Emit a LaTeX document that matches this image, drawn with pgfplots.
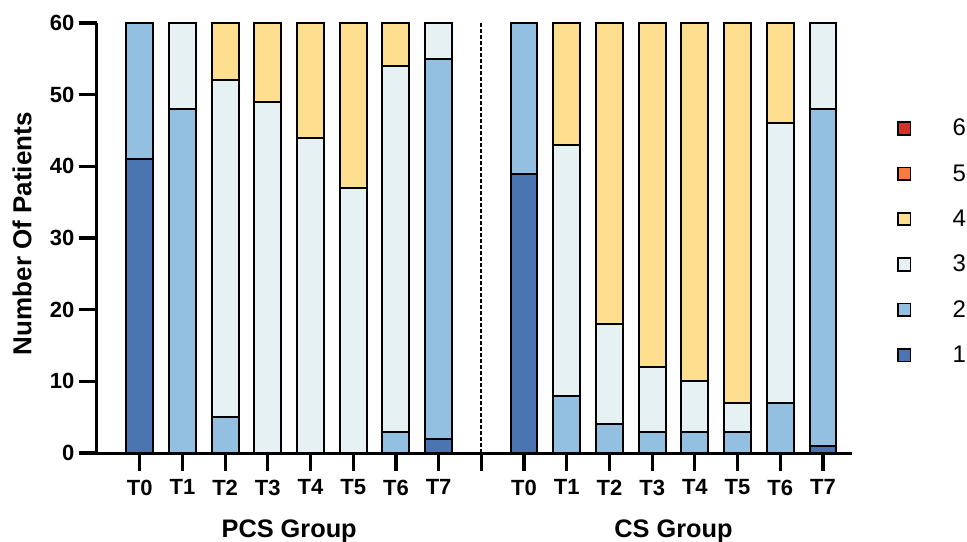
\documentclass[border=0pt]{standalone}
\usepackage{fontspec}
\setmainfont{Liberation Sans}
\usepackage{pgfplots}
\pgfplotsset{compat=1.18}
\definecolor{c1}{HTML}{4A75B0}
\definecolor{c2}{HTML}{93BFE1}
\definecolor{c3}{HTML}{E6F1F3}
\definecolor{c4}{HTML}{FEDF8F}
\definecolor{c5}{HTML}{F67B3C}
\definecolor{c6}{HTML}{D73027}
\pgfplotsset{sqleg/.style={legend image code/.code={\draw[##1, line width=1.3pt] (0pt,-4.75pt) rectangle (9.5pt,4.75pt);}}}
\begin{document}
\begin{tikzpicture}
\useasboundingbox (-72.75pt,-66.75pt) rectangle (652.5pt,339.75pt);
\begin{axis}[
  at={(0,0)}, anchor=south west,
  scale only axis, width=566.25pt, height=322.5pt,
  ybar stacked, bar width=0.63,
  xmin=0, xmax=17.68, ymin=0, ymax=60,
  clip=false,
  axis x line*=bottom, axis y line*=left,
  axis line style={line width=2.25pt, -},
  every tick/.append style={line width=2.4pt, draw=black},
  every major tick/.append style={line width=2.4pt, draw=black},
  xtick style={line width=2.4pt, draw=black},
  ytick style={line width=2.4pt, draw=black},
  major tick length=13.5pt,
  xtick align=outside, ytick align=outside,
  xtick={1,2,3,4,5,6,7,8,9,10,11,12,13,14,15,16,17},
  xticklabels={T0,T1,T2,T3,T4,T5,T6,T7,,T0,T1,T2,T3,T4,T5,T6,T7},
  ytick={0,10,20,30,40,50,60},
  /pgf/number format/assume math mode=true,
  tick label style={font=\fontsize{16.5}{16.5}\selectfont\bfseries},
  xticklabel style={yshift=-3pt},
  ylabel={Number Of Patients},
  ylabel style={font=\fontsize{19.5}{19.5}\selectfont\bfseries, at={(axis description cs:-0.0993,0.51)}, anchor=center},
  reverse legend,
  legend style={at={(1.0592,0.777)}, anchor=north west, draw=none, fill=none, inner sep=0pt,
    font=\fontsize{18}{18}\selectfont, row sep=20pt,
    /tikz/every odd column/.append style={column sep=31pt},
    nodes={inner sep=0pt}},
]
\addplot[sqleg, fill=c1, draw=black, line width=1.5pt] coordinates {(1,41) (2,0) (3,0) (4,0) (5,0) (6,0) (7,0) (8,2) (10,39) (11,0) (12,0) (13,0) (14,0) (15,0) (16,0) (17,1)};
\addlegendentry{1}
\addplot[sqleg, fill=c2, draw=black, line width=1.5pt] coordinates {(1,19) (2,48) (3,5) (4,0) (5,0) (6,0) (7,3) (8,53) (10,21) (11,8) (12,4) (13,3) (14,3) (15,3) (16,7) (17,47)};
\addlegendentry{2}
\addplot[sqleg, fill=c3, draw=black, line width=1.5pt] coordinates {(1,0) (2,12) (3,47) (4,49) (5,44) (6,37) (7,51) (8,5) (10,0) (11,35) (12,14) (13,9) (14,7) (15,4) (16,39) (17,12)};
\addlegendentry{3}
\addplot[sqleg, fill=c4, draw=black, line width=1.5pt] coordinates {(1,0) (2,0) (3,8) (4,11) (5,16) (6,23) (7,6) (8,0) (10,0) (11,17) (12,42) (13,48) (14,50) (15,53) (16,14) (17,0)};
\addlegendentry{4}
\addlegendimage{sqleg, fill=c5, draw=black}
\addlegendentry{5}
\addlegendimage{sqleg, fill=c6, draw=black}
\addlegendentry{6}
\draw[line width=1.5pt, dash pattern=on 3pt off 1.5pt] (axis cs:9,0) -- (axis cs:9,60);
\node[font=\fontsize{19}{19}\selectfont\bfseries, inner sep=0pt, anchor=base] at ([yshift=-63pt]axis cs:4.5,0) {PCS Group};
\node[font=\fontsize{19}{19}\selectfont\bfseries, inner sep=0pt, anchor=base] at ([yshift=-63pt]axis cs:13.5,0) {CS Group};
\end{axis}
\end{tikzpicture}
\end{document}
